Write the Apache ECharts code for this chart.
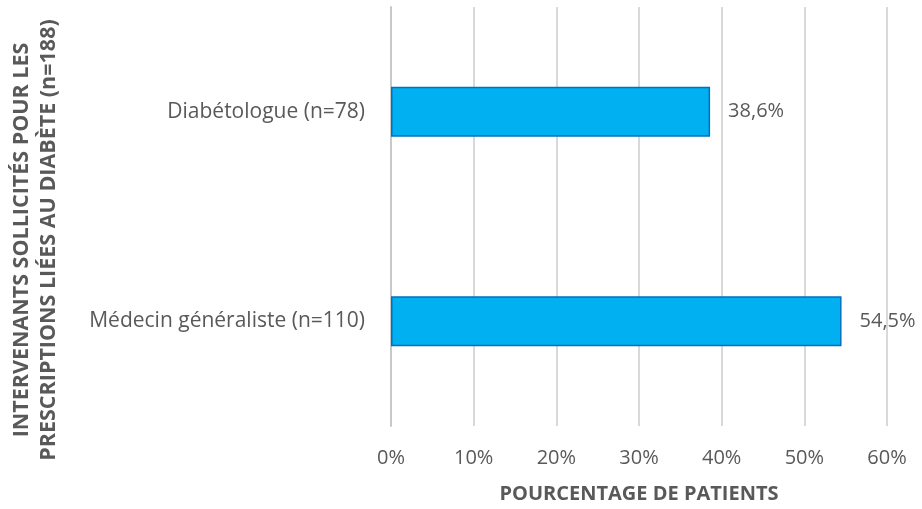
<!DOCTYPE html>
<html>
<head>
<meta charset="utf-8">
<script src="https://cdn.jsdelivr.net/npm/echarts@6/dist/echarts.min.js"></script>
<style>
  html, body { margin: 0; padding: 0; background: #fff; }
  #chart { width: 922px; height: 509px; }
</style>
</head>
<body>
<div id="chart"></div>
<script>
// catégories (de bas en haut) et valeurs en %
var categories = ['Médecin généraliste (n=110)', 'Diabétologue (n=78)']
var values = [54.5, 38.6]
var tickLabels = ['0%', '10%', '20%', '30%', '40%', '50%', '60%']

var textColor = '#595959'
var font = 'Open Sans'

var chart = echarts.init(document.getElementById('chart'))
chart.setOption({
  animation: false,
  textStyle: { fontFamily: font },
  grid: { left: 391, right: 35, top: 7, bottom: 83 },
  xAxis: {
    type: 'value',
    min: 0,
    max: 60,
    interval: 10,
    axisLine: { show: false },
    axisTick: { show: false },
    splitLine: { lineStyle: { color: '#d9d9d9', width: 2 } },
    axisLabel: {
      color: textColor,
      fontSize: 20,
      margin: 22,
      formatter: function (v) { return tickLabels[v / 10] }
    },
    name: 'POURCENTAGE DE PATIENTS',
    nameLocation: 'middle',
    nameGap: 58,
    nameTextStyle: { color: textColor, fontSize: 20, fontWeight: 'bold' }
  },
  yAxis: {
    type: 'category',
    data: categories,
    axisLine: { show: true, lineStyle: { color: '#c8c8c8', width: 2 } },
    axisTick: { show: false },
    axisLabel: { color: textColor, fontSize: 21, margin: 26 }
  },
  graphic: [{
    type: 'text',
    x: 35,
    y: 240,
    rotation: Math.PI / 2,
    style: {
      text: 'INTERVENANTS SOLLICITÉS POUR LES\nPRESCRIPTIONS LIÉES AU DIABÈTE (n=188)',
      fill: textColor,
      font: 'bold 21.5px "Open Sans"',
      align: 'center',
      verticalAlign: 'middle',
      lineHeight: 27
    }
  }],
  series: [{
    type: 'bar',
    data: values,
    barWidth: 50,
    itemStyle: { color: '#00b0f0', borderColor: '#0070c0', borderWidth: 1.5 },
    label: {
      show: true,
      position: 'right',
      distance: 18,
      color: textColor,
      fontSize: 20,
      formatter: function (p) { return p.value.toFixed(1).replace('.', ',') + '%' }
    }
  }]
})
</script>
</body>
</html>
